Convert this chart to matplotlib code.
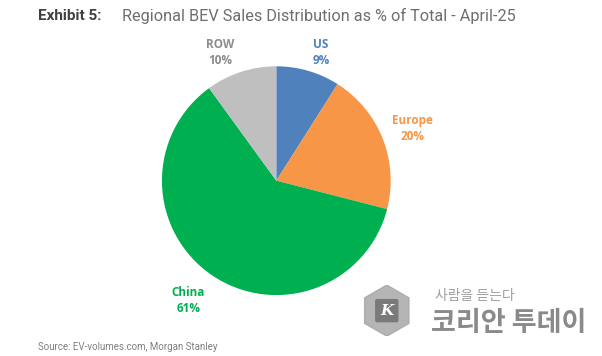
import matplotlib.pyplot as plt
from matplotlib.patches import RegularPolygon, FancyBboxPatch

regions = ['US', 'Europe', 'China', 'ROW']
shares = [9, 20, 61, 10]
colors = ['#4f81bd', '#f79646', '#00b050', '#bfbfbf']
label_colors = ['#4f81bd', '#f79646', '#00b050', '#8c8c8c']

plt.rcParams['font.family'] = ['Roboto', 'DejaVu Sans']

fig = plt.figure(figsize=(6.02, 3.56), dpi=100)
ax = fig.add_axes([0.269, 0.171, 0.380, 0.643])

wedges, texts = ax.pie(shares, colors=colors, startangle=90, counterclock=False,
                       labels=[f'{r}\n{s}%' for r, s in zip(regions, shares)],
                       labeldistance=1.2,
                       wedgeprops=dict(linewidth=0))
for t, c in zip(texts, label_colors):
    t.set_color(c)
    t.set_fontweight('bold')
    t.set_fontsize(8.5)
    t.set_family(['Open Sans', 'DejaVu Sans'])
    t.set_ha('center')
    t.set_va('center')
    t.set_linespacing(1.3)
# label spots as in the original
texts[0].set_position((0.39, 1.12))
texts[1].set_position((1.19, 0.46))
texts[2].set_position((-0.77, -1.05))
texts[3].set_position((-0.49, 1.12))
ax.set_xlim(-1, 1)
ax.set_ylim(-1, 1)
ax.set_aspect('equal')

fig.text(0.063, 0.955, 'Exhibit 5:', fontsize=11, fontweight='bold',
         color='#404040', va='center')
fig.text(0.202, 0.955, 'Regional BEV Sales Distribution as % of Total - April-25',
         fontsize=11.7, color='#6e6e6e', va='center')
fig.text(0.063, 0.025, 'Source: EV-volumes.com, Morgan Stanley', fontsize=7,
         color='#7f7f7f', va='center')

# watermark
lax = fig.add_axes([0.600, 0.055, 0.085, 0.145])
lax.set_xlim(-1, 1)
lax.set_ylim(-1, 1)
lax.set_aspect('equal')
lax.axis('off')
lax.add_patch(RegularPolygon((0, 0), numVertices=6, radius=1.0, color='#a8a8a8',
                             alpha=0.85, orientation=0))
lax.add_patch(FancyBboxPatch((-0.38, -0.38), 0.76, 0.76,
                             boxstyle='round,pad=0.05', color='#7a7a7a'))
lax.text(0, -0.02, 'K', fontsize=11, fontweight='bold', style='italic',
         color='white', ha='center', va='center', family='DejaVu Serif')
fig.text(0.722, 0.168, '사람을 듣는다', fontsize=10, color='#a0a0a0',
         family=['Noto Sans CJK KR'], va='center')
fig.text(0.716, 0.092, '코리안 투데이', fontsize=19.5, fontweight='bold',
         color='#8a8a8a', family=['Noto Sans CJK KR'], va='center')

fig.savefig('out.png', dpi=100)
